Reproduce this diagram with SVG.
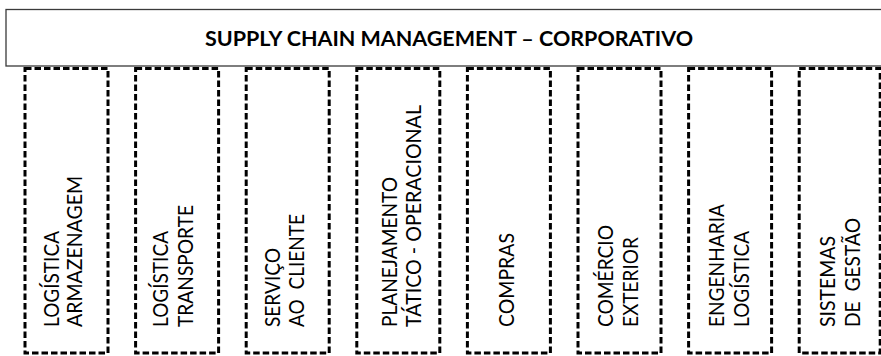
<svg xmlns="http://www.w3.org/2000/svg" width="881" height="356" viewBox="0 0 881 356">
  <style>
    .hdr { fill: #ffffff; stroke: #3a3a3a; stroke-width: 1.3; }
    .title { font-family: Lato, "Open Sans", "Liberation Sans", sans-serif; font-weight: 700; font-size: 21px; fill: #000; }
    .col { fill: #ffffff; stroke: #000; stroke-width: 3; stroke-dasharray: 6.5 3; }
    .lbl { font-family: Lato, "Open Sans", "Liberation Sans", sans-serif; font-size: 22px; fill: #000; }
  </style>
  <rect width="881" height="356" fill="#ffffff"/>

  <!-- corporate header bar -->
  <g id="header">
    <rect class="hdr" x="6" y="9.5" width="884" height="56.5"/>
    <text class="title" x="205" y="46" textLength="488" lengthAdjust="spacingAndGlyphs">SUPPLY CHAIN MANAGEMENT – CORPORATIVO</text>
  </g>

  <!-- area columns (no connectors between them) -->
  <g id="connectors"/>

  <g id="col-armazenagem">
    <rect class="col" x="25" y="68.5" width="83" height="284.5"/>
    <text class="lbl" transform="translate(58.5,327) rotate(-90)" textLength="96" lengthAdjust="spacingAndGlyphs">LOGÍSTICA</text>
    <text class="lbl" transform="translate(82,327) rotate(-90)" textLength="151" lengthAdjust="spacingAndGlyphs">ARMAZENAGEM</text>
  </g>

  <g id="col-transporte">
    <rect class="col" x="135.6" y="68.5" width="83" height="284.5"/>
    <text class="lbl" transform="translate(168,327) rotate(-90)" textLength="96" lengthAdjust="spacingAndGlyphs">LOGÍSTICA</text>
    <text class="lbl" transform="translate(192.5,327) rotate(-90)" textLength="122" lengthAdjust="spacingAndGlyphs">TRANSPORTE</text>
  </g>

  <g id="col-servico">
    <rect class="col" x="246.2" y="68.5" width="83" height="284.5"/>
    <text class="lbl" transform="translate(279.5,327) rotate(-90)" textLength="79" lengthAdjust="spacingAndGlyphs">SERVIÇO</text>
    <text class="lbl" transform="translate(303.5,327) rotate(-90)" textLength="113" lengthAdjust="spacingAndGlyphs" xml:space="preserve">AO  CLIENTE</text>
  </g>

  <g id="col-planejamento">
    <rect class="col" x="356.8" y="68.5" width="83" height="284.5"/>
    <text class="lbl" transform="translate(396.5,327) rotate(-90)" textLength="150" lengthAdjust="spacingAndGlyphs">PLANEJAMENTO</text>
    <text class="lbl" transform="translate(421,327) rotate(-90)" textLength="222" lengthAdjust="spacingAndGlyphs">TÁTICO - OPERACIONAL</text>
  </g>

  <g id="col-compras">
    <rect class="col" x="467.4" y="68.5" width="83" height="284.5"/>
    <text class="lbl" transform="translate(514,327) rotate(-90)" textLength="94" lengthAdjust="spacingAndGlyphs">COMPRAS</text>
  </g>

  <g id="col-comercio">
    <rect class="col" x="578" y="68.5" width="83" height="284.5"/>
    <text class="lbl" transform="translate(613,327) rotate(-90)" textLength="102" lengthAdjust="spacingAndGlyphs">COMÉRCIO</text>
    <text class="lbl" transform="translate(637.5,327) rotate(-90)" textLength="90" lengthAdjust="spacingAndGlyphs">EXTERIOR</text>
  </g>

  <g id="col-engenharia">
    <rect class="col" x="688.6" y="68.5" width="83" height="284.5"/>
    <text class="lbl" transform="translate(724,327) rotate(-90)" textLength="123" lengthAdjust="spacingAndGlyphs">ENGENHARIA</text>
    <text class="lbl" transform="translate(749,327) rotate(-90)" textLength="96" lengthAdjust="spacingAndGlyphs">LOGÍSTICA</text>
  </g>

  <g id="col-sistemas">
    <rect class="col" x="799.2" y="68.5" width="81" height="284.5"/>
    <text class="lbl" transform="translate(835,327) rotate(-90)" textLength="91" lengthAdjust="spacingAndGlyphs">SISTEMAS</text>
    <text class="lbl" transform="translate(859.5,327) rotate(-90)" textLength="109" lengthAdjust="spacingAndGlyphs" xml:space="preserve">DE  GESTÃO</text>
  </g>
</svg>
